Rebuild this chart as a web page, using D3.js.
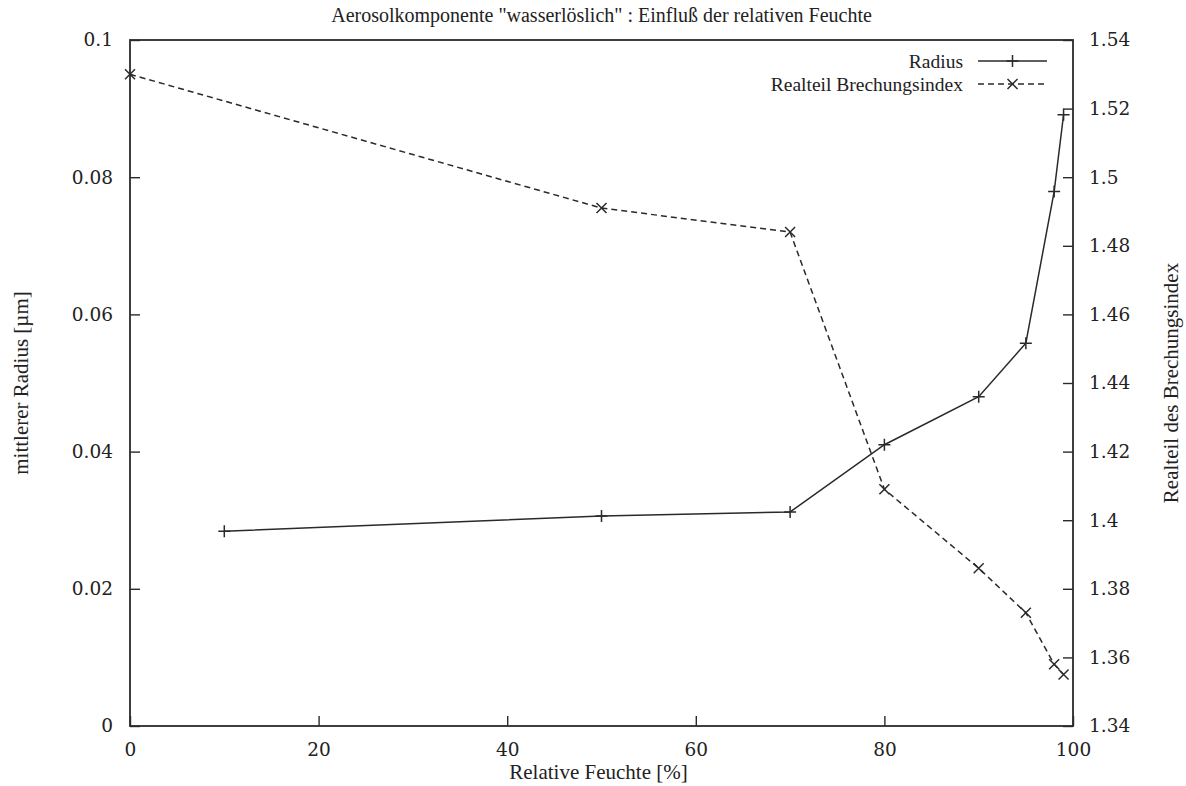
<!DOCTYPE html>
<html>
<head>
<meta charset="utf-8">
<script src="https://cdn.jsdelivr.net/npm/d3@7"></script>
<style>
  html, body { margin: 0; padding: 0; background: #fff; }
</style>
</head>
<body>
<svg id="chart" width="1186" height="786"></svg>
<script>
// Relative humidity [%] for each series
const humidityRadius = [10, 50, 70, 80, 90, 95, 98, 99];
const radiusValues   = [0.0284, 0.0306, 0.0312, 0.0410, 0.0480, 0.0558, 0.0779, 0.0891];

const humidityIndex  = [0, 50, 70, 80, 90, 95, 98, 99];
const indexValues    = [1.530, 1.491, 1.484, 1.409, 1.386, 1.373, 1.358, 1.355];

const xTicks     = [0, 20, 40, 60, 80, 100];
const leftTicks  = [0, 0.02, 0.04, 0.06, 0.08, 0.1];
const rightTicks = [1.34, 1.36, 1.38, 1.40, 1.42, 1.44, 1.46, 1.48, 1.50, 1.52, 1.54];

const titleText  = 'Aerosolkomponente "wasserlöslich" : Einfluß der relativen Feuchte';
const xLabel     = 'Relative Feuchte [%]';
const yLeftLabel = 'mittlerer Radius [µm]';
const yRightLabel = 'Realteil des Brechungsindex';
const legendNames = ['Radius', 'Realteil Brechungsindex'];

const FONT = "'Liberation Serif', 'DejaVu Serif', serif";
const TICKFONT = "'DejaVu Serif', 'Liberation Serif', serif";
const ink = '#2a2a2a';
const txt = '#222';
const L = 130, R = 1073, T = 40, B = 726;
const svg = d3.select('#chart').attr('font-family', FONT);

const x  = d3.scaleLinear().domain([0, 100]).range([L, R]);
const yL = d3.scaleLinear().domain([0, 0.1]).range([B, T]);
const yR = d3.scaleLinear().domain([1.34, 1.54]).range([B, T]);

const fmt = d3.format('~g');

// Axes with inward ticks
const gx = svg.append('g').attr('transform', `translate(0,${B})`)
  .call(d3.axisBottom(x).tickValues(xTicks).tickFormat(fmt).tickSizeInner(-10).tickSizeOuter(0).tickPadding(17));
const gl = svg.append('g').attr('transform', `translate(${L},0)`)
  .call(d3.axisLeft(yL).tickValues(leftTicks).tickFormat(fmt).tickSizeInner(-10).tickSizeOuter(0).tickPadding(17));
const gr = svg.append('g').attr('transform', `translate(${R},0)`)
  .call(d3.axisRight(yR).tickValues(rightTicks).tickFormat(fmt).tickSizeInner(-10).tickSizeOuter(0).tickPadding(16));

[gx, gl, gr].forEach(g => {
  g.attr('font-family', TICKFONT).attr('font-size', 18.5);
  g.select('.domain').remove();
  g.selectAll('.tick line').attr('stroke', ink).attr('stroke-width', 1.4);
  g.selectAll('.tick text').attr('fill', txt);
});

// Plot frame
svg.append('rect')
  .attr('x', L).attr('y', T).attr('width', R - L).attr('height', B - T)
  .attr('fill', 'none').attr('stroke', ink).attr('stroke-width', 1.8);

// Radius series (left axis)
const radiusPts = humidityRadius.map((h, i) => [x(h), yL(radiusValues[i])]);
svg.append('path')
  .attr('d', d3.line()(radiusPts))
  .attr('fill', 'none').attr('stroke', ink).attr('stroke-width', 1.5);

svg.append('g').selectAll('path').data(radiusPts).join('path')
  .attr('d', d => `M${d[0]-6},${d[1]}H${d[0]+6}M${d[0]},${d[1]-6}V${d[1]+6}`)
  .attr('stroke', ink).attr('stroke-width', 1.5);

// Refractive index series (right axis)
const indexPts = humidityIndex.map((h, i) => [x(h), yR(indexValues[i])]);
svg.append('path')
  .attr('d', d3.line()(indexPts))
  .attr('fill', 'none').attr('stroke', ink).attr('stroke-width', 1.5)
  .attr('stroke-dasharray', '6,4');

svg.append('g').selectAll('path').data(indexPts).join('path')
  .attr('d', d => `M${d[0]-5},${d[1]-5}L${d[0]+5},${d[1]+5}M${d[0]-5},${d[1]+5}L${d[0]+5},${d[1]-5}`)
  .attr('stroke', ink).attr('stroke-width', 1.5);

// Legend
const legX = 963, legLine0 = 978, legLine1 = 1047, legRows = [61, 84];
legendNames.forEach((name, i) => {
  const yy = legRows[i];
  svg.append('text').attr('x', legX).attr('y', yy).attr('dy', '0.35em')
    .attr('text-anchor', 'end').attr('font-size', 19.5).attr('fill', txt).text(name);
  const line = svg.append('line')
    .attr('x1', legLine0).attr('x2', legLine1).attr('y1', yy).attr('y2', yy)
    .attr('stroke', ink).attr('stroke-width', 1.5);
  const cx = (legLine0 + legLine1) / 2;
  if (i === 0) {
    svg.append('path').attr('d', `M${cx-6},${yy}H${cx+6}M${cx},${yy-6}V${yy+6}`)
      .attr('stroke', ink).attr('stroke-width', 1.5);
  } else {
    line.attr('stroke-dasharray', '6,4');
    svg.append('path').attr('d', `M${cx-5},${yy-5}L${cx+5},${yy+5}M${cx-5},${yy+5}L${cx+5},${yy-5}`)
      .attr('stroke', ink).attr('stroke-width', 1.5);
  }
});

// Title and axis labels
svg.append('text').attr('x', (L + R) / 2).attr('y', 22)
  .attr('text-anchor', 'middle').attr('font-size', 20).attr('fill', txt).text(titleText);

svg.append('text').attr('x', (L + R) / 2 - 3).attr('y', 779)
  .attr('text-anchor', 'middle').attr('font-size', 21).attr('fill', txt).text(xLabel);

svg.append('text')
  .attr('transform', `translate(28,${(T + B) / 2}) rotate(-90)`)
  .attr('text-anchor', 'middle').attr('font-size', 21).attr('fill', txt).text(yLeftLabel);

svg.append('text')
  .attr('transform', `translate(1178,${(T + B) / 2}) rotate(-90)`)
  .attr('text-anchor', 'middle').attr('font-size', 21).attr('fill', txt).text(yRightLabel);
</script>
</body>
</html>
